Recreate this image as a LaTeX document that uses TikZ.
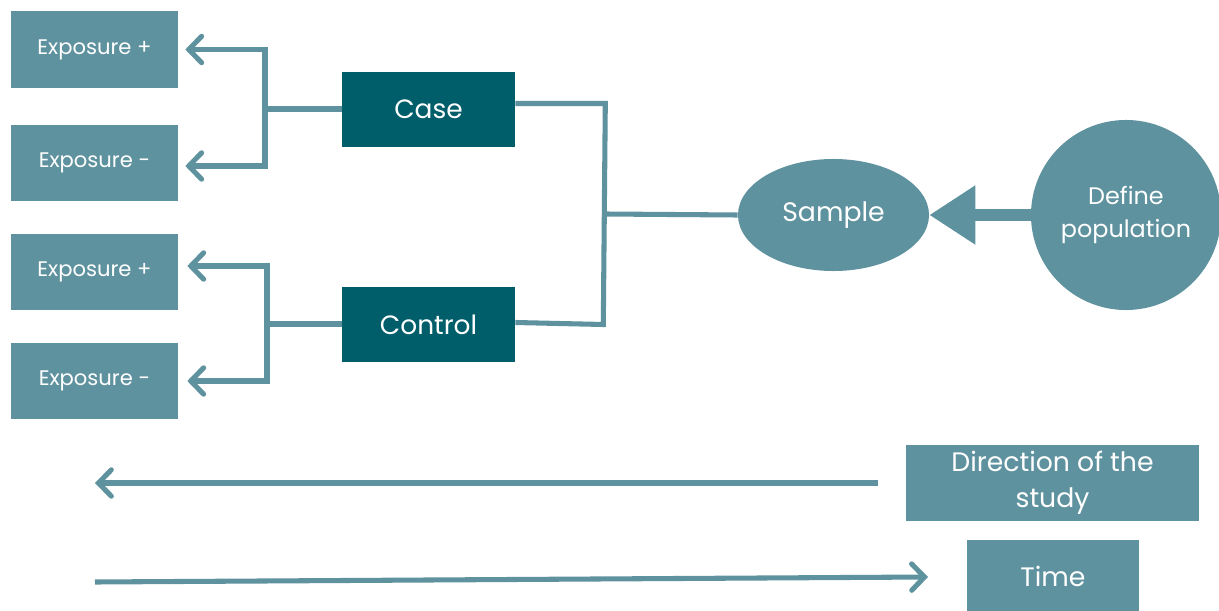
\documentclass[tikz,border=0pt]{standalone}
\usepackage{fontspec}
\setmainfont{Poppins}
\usepackage{tikz}
\usetikzlibrary{calc}
\usetikzlibrary{arrows.meta}
\usetikzlibrary{shapes}
\usetikzlibrary{shapes.geometric}
\definecolor{lightteal}{HTML}{5F929F}
\definecolor{darkteal}{HTML}{005E6B}
\tikzset{>=latex}
\tikzstyle{expbox} = [rectangle, fill=lightteal, text=white, minimum width=4.175cm, minimum height=1.9cm, inner sep=0pt, font=\fontsize{15}{17}\selectfont]
\tikzstyle{groupbox} = [rectangle, fill=darkteal, text=white, minimum width=4.325cm, minimum height=1.875cm, inner sep=0pt, font=\fontsize{18.8}{21}\selectfont]
\tikzstyle{infobox} = [rectangle, fill=lightteal, text=white, inner sep=0pt, font=\fontsize{19}{25.5}\selectfont, align=center]
\tikzstyle{link} = [-, draw=lightteal, line width=3.6pt]
\tikzstyle{barb} = [draw=lightteal, line width=3.6pt, -{Straight Barb[length=3.2mm, width=6.6mm, line cap=round]}]

\begin{document}
\begin{tikzpicture}[x=0.025cm, y=-0.025cm]
\useasboundingbox (0, 0) rectangle (1219, 611);
% exposure boxes
\node [expbox] (E1) at (94.5, 49.5) {Exposure +};
\node [expbox] (E2) at (94.5, 163) {Exposure -};
\node [expbox] (E3) at (94.5, 272) {Exposure +};
\node [expbox] (E4) at (94.5, 381) {Exposure -};
% groups
\node [groupbox] (Case) at (428.5, 109.5) {Case};
\node [groupbox] (Ctrl) at (428.5, 324.5) {Control};
\node [ellipse, fill=lightteal, text=white, minimum width=4.775cm, minimum height=2.8cm, inner sep=0pt, font=\fontsize{19}{21}\selectfont] (S) at (833.5, 215) {Sample};
\node [circle, fill=lightteal, text=white, minimum size=4.75cm, inner sep=0pt, align=center, font=\fontsize{17}{22.8}\selectfont] (P) at (1126, 215) {Define\\population};
\node [infobox, minimum width=7.325cm, minimum height=1.875cm] (Dir) at (1052.5, 483) {Direction of the\\study};
\node [infobox, minimum width=4.3cm, minimum height=1.775cm] (T) at (1053, 576) {Time};
% branch points
\coordinate (CaseJ) at (265, 109);
\coordinate (CtrlJ) at (267, 324);
\coordinate (SJ) at (605, 214);
\coordinate (D0) at (878, 483);
\coordinate (D1) at (95, 483);
\coordinate (T0) at (95, 582);
\coordinate (T1) at (928, 577);
\draw [link] (Case.west |- CaseJ) -- (CaseJ);
\draw [barb] (CaseJ) |- ($(E1.east) + (7, 0)$);
\draw [barb] (CaseJ) |- ($(E2.east) + (7, 3)$);
\draw [link] (Ctrl.west |- CtrlJ) -- (CtrlJ);
\draw [barb] (CtrlJ) |- ($(E3.east) + (9, -6)$);
\draw [barb] (CtrlJ) |- ($(E4.east) + (9, 0)$);
\draw [link, line join=miter] ($(Case.east) + (0, -6)$) -- ($(Case.east) + (90, -6)$) -- ($(Ctrl.east) + (88, 0)$) -- ($(Ctrl.east) + (0, -2)$);
\draw [link] (SJ) -- (S.west);
\draw [draw=lightteal, line width=8.5pt, -{Triangle[length=1.15cm, width=1.4cm]}] (P.west) -- (S.east);
\draw [barb] (D0) -- (D1);
\draw [barb] (T0) -- (T1);
\end{tikzpicture}
\end{document}
